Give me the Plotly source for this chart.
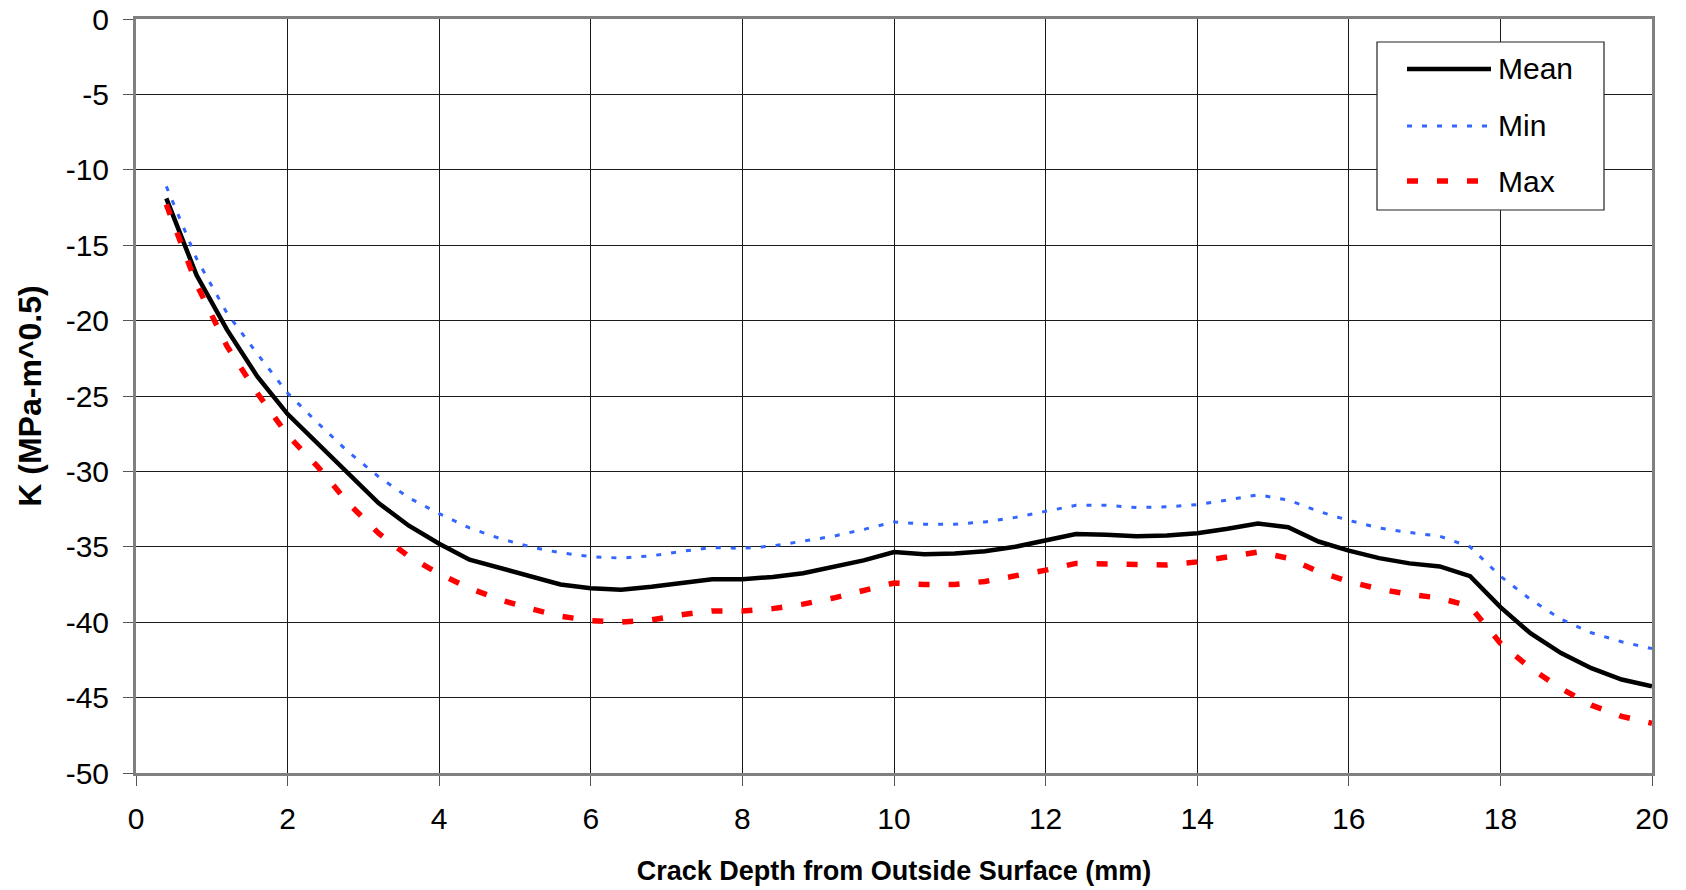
import plotly.graph_objects as go

# Crack depth from the outside surface (mm)
depth_mm = [0.4, 0.8, 1.2, 1.6, 2.0, 2.4, 2.8, 3.2, 3.6, 4.0,
            4.4, 4.8, 5.2, 5.6, 6.0, 6.4, 6.8, 7.2, 7.6, 8.0,
            8.4, 8.8, 9.2, 9.6, 10.0, 10.4, 10.8, 11.2, 11.6, 12.0,
            12.4, 12.8, 13.2, 13.6, 14.0, 14.4, 14.8, 15.2, 15.6, 16.0,
            16.4, 16.8, 17.2, 17.6, 18.0, 18.4, 18.8, 19.2, 19.6, 20.0]

# Stress intensity factor K (MPa-m^0.5)
k_mean = [-11.9, -17.0, -20.6, -23.7, -26.2, -28.2, -30.2, -32.1, -33.6, -34.8,
          -35.85, -36.4, -37.0, -37.5, -37.75, -37.85, -37.65, -37.4, -37.15, -37.15,
          -37.0, -36.75, -36.35, -35.9, -35.35, -35.5, -35.45, -35.3, -35.0, -34.6,
          -34.15, -34.2, -34.3, -34.25, -34.1, -33.8, -33.45, -33.7, -34.65, -35.25,
          -35.75, -36.1, -36.3, -36.95, -39.0, -40.75, -42.05, -43.05, -43.8, -44.25]

k_min = [-11.1, -15.9, -19.5, -22.2, -24.8, -26.8, -28.7, -30.35, -31.75, -32.8,
         -33.75, -34.45, -35.0, -35.4, -35.65, -35.75, -35.6, -35.3, -35.05, -35.1,
         -34.95, -34.65, -34.3, -33.85, -33.35, -33.5, -33.5, -33.35, -33.05, -32.65,
         -32.25, -32.25, -32.4, -32.35, -32.2, -31.9, -31.55, -31.9, -32.65, -33.25,
         -33.75, -34.05, -34.3, -35.0, -36.95, -38.5, -39.8, -40.7, -41.3, -41.75]

k_max = [-12.3, -17.6, -21.7, -24.8, -27.6, -29.7, -32.1, -34.1, -35.65, -36.8,
         -37.75, -38.5, -39.1, -39.6, -39.9, -40.0, -39.85, -39.5, -39.25, -39.25,
         -39.1, -38.8, -38.4, -37.9, -37.4, -37.5, -37.5, -37.3, -36.95, -36.55,
         -36.1, -36.15, -36.2, -36.2, -36.0, -35.65, -35.35, -35.75, -36.65, -37.3,
         -37.8, -38.15, -38.4, -38.95, -41.4, -43.05, -44.4, -45.5, -46.25, -46.7]

series_names = ["Mean", "Min", "Max"]
x_ticks = [0, 2, 4, 6, 8, 10, 12, 14, 16, 18, 20]
y_ticks = [0, -5, -10, -15, -20, -25, -30, -35, -40, -45, -50]

FONT = "Liberation Sans, Arial, sans-serif"
W, H = 1686, 890
M_L, M_R, M_T, M_B = 136, 34, 19, 117

styles = {
    "Mean": dict(color="#000000", width=4.5, dash="solid"),
    "Min": dict(color="#3366FF", width=3, dash="5px,10px"),
    "Max": dict(color="#FF0000", width=5.5, dash="11px,19px"),
}
values = {"Mean": k_mean, "Min": k_min, "Max": k_max}

fig = go.Figure()
for name in series_names:
    fig.add_trace(go.Scatter(
        x=depth_mm, y=values[name], name=name, mode="lines",
        line=dict(**styles[name]), showlegend=False,
    ))

# Boxed legend in the upper right of the plot area
pw, ph = W - M_L - M_R, H - M_T - M_B


def px_x(px):
    return (px - M_L) / pw


def px_y(py):
    return (H - M_B - py) / ph


fig.add_shape(type="rect", xref="paper", yref="paper",
              x0=px_x(1377), x1=px_x(1604), y0=px_y(210), y1=px_y(42),
              line=dict(color="#222222", width=1.2), fillcolor="white", layer="above")
row_y = [69, 126, 181]
for name, ry in zip(series_names, row_y):
    st = styles[name]
    fig.add_shape(type="line", xref="paper", yref="paper",
                  x0=px_x(1407), x1=px_x(1491), y0=px_y(ry), y1=px_y(ry),
                  line=dict(color=st["color"], width=st["width"], dash=st["dash"]),
                  layer="above")
    fig.add_annotation(xref="paper", yref="paper", x=px_x(1496), y=px_y(ry),
                       text=name, showarrow=False, xanchor="left", yanchor="middle",
                       font=dict(family=FONT, size=30, color="black"))

axis_common = dict(
    showline=True, linecolor="#808080", linewidth=3, mirror=True,
    showgrid=True, gridcolor="#1a1a1a", gridwidth=1, zeroline=False,
    ticks="outside", ticklen=10, tickwidth=1, tickcolor="#555555",
    tickfont=dict(family=FONT, size=30, color="black"),
)

fig.update_xaxes(
    range=[0, 20], tickvals=x_ticks, ticktext=[str(v) for v in x_ticks],
    ticklabelstandoff=7,
    title=dict(text="<b>Crack Depth from Outside Surface (mm)</b>",
               font=dict(family=FONT, size=27, color="black"), standoff=28),
    **axis_common,
)
fig.update_yaxes(
    range=[-50, 0], tickvals=y_ticks, ticktext=[str(v) for v in y_ticks],
    ticklabelstandoff=8,
    title=dict(text="<b>K (MPa-m^0.5)</b>",
               font=dict(family=FONT, size=32, color="black"), standoff=15),
    **axis_common,
)

fig.update_layout(
    width=W, height=H,
    margin=dict(l=M_L, r=M_R, t=M_T, b=M_B, autoexpand=False),
    paper_bgcolor="white", plot_bgcolor="white",
    font=dict(family=FONT, color="black"),
)

fig.write_html("out.html")
